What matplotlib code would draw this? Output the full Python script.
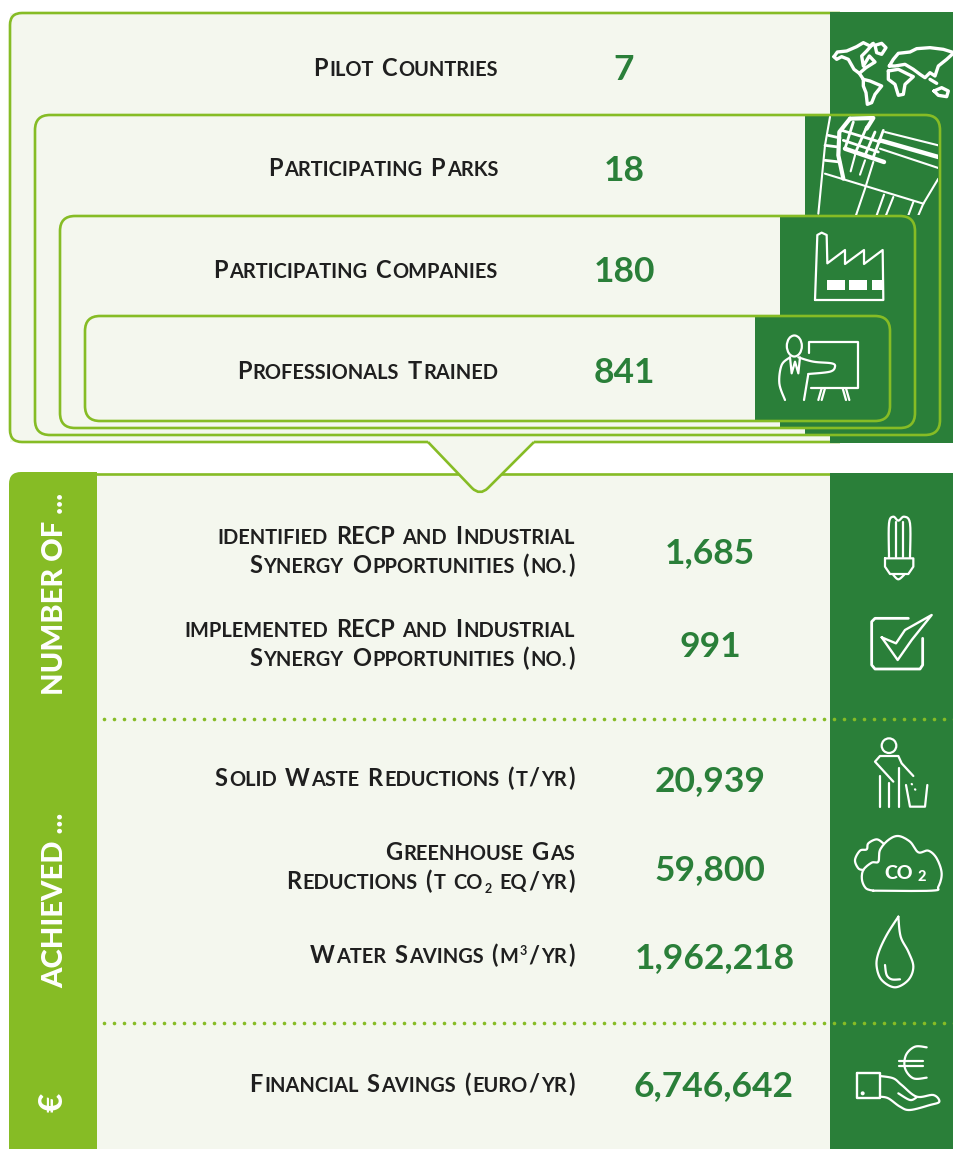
import re
import numpy as np
import matplotlib
matplotlib.use('Agg')
import matplotlib.pyplot as plt
from matplotlib.patches import FancyBboxPatch, Rectangle, PathPatch, Ellipse, Circle
from matplotlib.path import Path

# chart content
top_labels = ['Pilot Countries', 'Participating Parks', 'Participating Companies', 'Professionals Trained']
top_values = ['7', '18', '180', '841']
bottom_labels = [
    ['identified RECP and Industrial', 'Synergy Opportunities (no.)'],
    ['implemented RECP and Industrial', 'Synergy Opportunities (no.)'],
    ['Solid Waste Reductions (t/yr)'],
    ['Greenhouse Gas', 'Reductions (t co₂ eq/yr)'],
    ['Water Savings (m³/yr)'],
    ['Financial Savings (euro/yr)'],
]
bottom_values = ['1,685', '991', '20,939', '59,800', '1,962,218', '6,746,642']
side_labels = ['NUMBER OF ...', 'ACHIEVED ...', '€']

# layout, in pixels of the 954x1149 picture
top_label_y = [76, 176, 278, 379]
top_value_y = [80, 181, 282, 383]
bottom_label_y = [[544, 573], [637, 666], [786], [860, 889], [963], [1092]]
bottom_value_y = [563, 657, 791, 880, 968, 1096]
bottom_value_x = [710, 710, 710, 710, 715, 714]
side_y = [695, 988, 1112]
side_size = [21, 21, 24]

PALE = '#F4F7EE'
LIME = '#86BC25'
DARK = '#2A7F39'
INK = '#1F1F1F'
FONT = 'Lato'

fig = plt.figure(figsize=(9.54, 11.49), dpi=100)
ax = fig.add_axes([0, 0, 1, 1])
ax.set_xlim(0, 954)
ax.set_ylim(1149, 0)
ax.axis('off')
renderer = fig.canvas.get_renderer()


def smallcaps(text, right, base, big=17.0, small=14.4, gap=6.5):
    # draws from the right end, lower case becomes smaller capitals
    x = right
    runs = re.findall(r'[a-z.]+|[₂³]| |[^a-z.₂³ ]+', text)
    for run in reversed(runs):
        if run == ' ':
            x -= gap
            continue
        size, y, s = big, base, run
        if run in '₂³':
            s = {'₂': '2', '³': '3'}[run]
            size, y = 9, base + 4 if run == '₂' else base - 8
        elif run[0].islower() or run[0] == '.':
            s = run.upper()
            size = small
        t = ax.text(x, y, s, ha='right', va='baseline', fontsize=size, color=INK,
                    family=FONT, fontweight='bold', zorder=10)
        x -= t.get_window_extent(renderer).width + 1.5


def line(pts, ox=0, oy=0, lw=1.6, closed=False, clip=None, z=8):
    # icon points are written in 3x crop coordinates
    p = np.array(pts, dtype=float) / 3 + [ox, oy]
    if closed:
        p = np.vstack([p, p[0]])
    l, = ax.plot(p[:, 0], p[:, 1], color='white', lw=lw, solid_joinstyle='round',
                 solid_capstyle='round', zorder=z)
    if clip is not None:
        l.set_clip_path(clip)
    return l


def smooth(pts, n=8):
    # catmull-rom through the icon points
    p = np.array(pts, dtype=float)
    p = np.vstack([p[0], p, p[-1]])
    out = []
    for i in range(1, len(p) - 2):
        for t in np.linspace(0, 1, n, endpoint=False):
            out.append(0.5 * (2 * p[i] + (p[i + 1] - p[i - 1]) * t
                              + (2 * p[i - 1] - 5 * p[i] + 4 * p[i + 1] - p[i + 2]) * t ** 2
                              + (3 * p[i] - p[i - 1] - 3 * p[i + 1] + p[i + 2]) * t ** 3))
    out.append(p[-1])
    return out


# outer box of the top block
ax.add_patch(Rectangle((10, 13), 830, 429, fc=PALE, ec='none', zorder=1))
outer = Path([(840, 13), (22, 13), (10, 13), (10, 25), (10, 430), (10, 442), (22, 442),
              (428, 442), (534, 442), (840, 442)],
             [Path.MOVETO, Path.LINETO, Path.CURVE3, Path.CURVE3, Path.LINETO, Path.CURVE3, Path.CURVE3,
              Path.LINETO, Path.MOVETO, Path.LINETO])
ax.add_patch(PathPatch(outer, fc='none', ec=LIME, lw=1.9, zorder=1.5))
ax.add_patch(Rectangle((0, 0), 10, 12, fc='white', ec='none', zorder=1))
ax.add_patch(Rectangle((830, 12), 124, 431, fc=DARK, ec='none', zorder=2))

# nested boxes, each with its dark end panel
boxes = [(35, 115, 940, 435, 805, 3), (60, 216, 915, 428, 780, 4), (85, 316, 890, 421, 755, 5)]
for x0, y0, x1, y1, panel, z in boxes:
    shape = FancyBboxPatch((x0, y0), x1 - x0, y1 - y0, boxstyle='round,pad=0,rounding_size=15',
                           fc=PALE, ec='none', zorder=z)
    ax.add_patch(shape)
    dark = Rectangle((panel, y0), x1 - panel, y1 - y0, fc=DARK, ec='none', zorder=z + 0.1)
    ax.add_patch(dark)
    dark.set_clip_path(shape)
    ax.add_patch(FancyBboxPatch((x0, y0), x1 - x0, y1 - y0, boxstyle='round,pad=0,rounding_size=15',
                                fc='none', ec=LIME, lw=1.9, zorder=z + 0.5))

# bottom block
ax.add_patch(Rectangle((97, 473), 733, 676, fc=PALE, ec='none', zorder=1))
ax.plot([97, 830], [473.5, 473.5], color=LIME, lw=1.9, zorder=1.2)
ax.add_patch(FancyBboxPatch((9, 472), 88, 700, boxstyle='round,pad=0,rounding_size=12', fc=LIME, ec='none', zorder=2))
ax.add_patch(Rectangle((50, 472), 47, 677, fc=LIME, ec='none', zorder=2))
ax.add_patch(Rectangle((830, 473), 124, 676, fc=DARK, ec='none', zorder=2))

# pointer between both blocks
tri = Path([(428, 442), (472, 488), (480, 496), (488, 488), (534, 442)],
           [Path.MOVETO, Path.LINETO, Path.CURVE3, Path.CURVE3, Path.LINETO])
ax.add_patch(PathPatch(tri, fc=PALE, ec=LIME, lw=1.9, zorder=2.5))

# dotted separators
dot_x = np.arange(104, 960, 10)
for y in [718.5, 1023]:
    ax.plot(dot_x, [y] * len(dot_x), ls='none', marker='o', ms=2.6, color=LIME, mec='none', zorder=3)

# text
for lab, y in zip(top_labels, top_label_y):
    smallcaps(lab, 498, y)
for val, y in zip(top_values, top_value_y):
    ax.text(624, y, val, ha='center', va='baseline', fontsize=25.5, color=DARK, family=FONT, fontweight='bold', zorder=10)
for labs, ys in zip(bottom_labels, bottom_label_y):
    for lab, y in zip(labs, ys):
        smallcaps(lab, 575, y)
for val, x, y in zip(bottom_values, bottom_value_x, bottom_value_y):
    ax.text(x, y, val, ha='center', va='baseline', fontsize=25.5, color=DARK, family=FONT, fontweight='bold', zorder=10)
for lab, y, size in zip(side_labels, side_y, side_size):
    ax.text(63, y, lab, rotation=90, ha='left', va='baseline', rotation_mode='anchor', fontsize=size, color='white',
            family=FONT, fontweight='black', zorder=10)

# world map icon
for part in [
    [(12, 62), (22, 48), (50, 45), (80, 32), (100, 20), (120, 30), (130, 22), (110, 45), (95, 60), (100, 90), (118, 60),
     (135, 78), (108, 95), (88, 112), (72, 100), (55, 70), (35, 62), (20, 70)],
    [(135, 28), (155, 22), (168, 35), (155, 55), (140, 50)],
    [(100, 130), (120, 135), (155, 150), (135, 175), (125, 200), (112, 205), (108, 170), (100, 150)],
    [(178, 90), (190, 70), (205, 52), (240, 48), (260, 38), (300, 35), (340, 40), (372, 50), (350, 70), (325, 90),
     (315, 120), (300, 110), (285, 125), (270, 115), (250, 100), (225, 85), (195, 90)],
    [(175, 105), (205, 100), (235, 115), (250, 122), (225, 145), (220, 175), (205, 178), (195, 145), (175, 130)],
    [(312, 165), (335, 155), (355, 165), (350, 182), (325, 178)],
]:
    line(part, 830, 36, lw=2.4, closed=True)
line([(88, 112), (100, 130)], 830, 36, lw=2.4)
line([(300, 130), (320, 142)], 830, 36, lw=2.4)

# street map icon, cut off by the box around it
street_clip = Rectangle((790, 116), 148, 99, transform=ax.transData)
for pts, w in [
    ([(60, 15), (45, 100), (25, 305)], 1.5),
    ([(45, 185), (340, 275)], 1.5),
    ([(340, 275), (325, 310)], 1.5),
    ([(340, 275), (385, 200)], 1.5),
    ([(225, 60), (385, 100)], 1.5),
    ([(210, 85), (385, 135)], 3.2),
    ([(210, 110), (385, 168)], 1.5),
    ([(105, 110), (222, 150)], 3.2),
    ([(95, 55), (210, 90)], 2),
    ([(100, 85), (205, 120)], 2),
    ([(45, 100), (85, 105)], 2),
    ([(45, 145), (90, 150)], 2),
    ([(55, 70), (90, 78)], 2),
    ([(120, 20), (88, 60), (85, 130), (100, 200)], 3),
    ([(120, 20), (190, 18), (170, 50)], 3),
    ([(130, 30), (105, 110)], 2),
    ([(170, 45), (135, 125)], 2),
    ([(195, 60), (165, 130)], 2),
    ([(220, 55), (190, 135)], 2),
    ([(135, 130), (122, 178)], 1.5),
    ([(165, 145), (150, 188)], 1.5),
    ([(190, 150), (165, 230), (138, 310)], 1.5),
    ([(222, 248), (200, 310)], 1.5),
    ([(250, 255), (228, 310)], 1.5),
    ([(310, 270), (295, 310)], 1.5),
]:
    line(pts, 810, 112, lw=w, clip=street_clip)

# factory icon
line([(225, 600), (232, 405), (245, 398), (260, 405), (262, 490), (315, 450), (315, 492), (372, 450), (372, 492),
      (428, 450), (430, 600)], 740, 100, closed=True)
for rx in [(262, 315), (328, 380), (395, 428)]:
    ax.add_patch(Rectangle((740 + rx[0] / 3, 100 + 540 / 3), (rx[1] - rx[0]) / 3, 10, fc='white', ec='none', zorder=8))

# presenter icon
ax.add_patch(Ellipse((740 + 163 / 3, 100 + 738 / 3), 15, 21, fc='none', ec='white', lw=1.6, zorder=8))
line(smooth([(135, 900), (118, 850), (125, 795), (150, 772)]), 740, 100)
line(smooth([(175, 772), (220, 785), (275, 790), (285, 800), (270, 815), (205, 822)]), 740, 100)
line([(205, 822), (192, 900)], 740, 100)
line([(207, 760), (207, 725), (355, 725), (355, 865), (212, 865)], 740, 100)
line([(150, 772), (155, 820), (165, 785), (175, 820), (180, 772)], 740, 100)
for a, b in [(245, 235), (255, 245), (308, 318), (318, 328)]:
    line([(a, 865), (b, 900)], 740, 100)

# bulb icon
line(smooth([(177, 172), (177, 70), (190, 50), (205, 62), (222, 50), (240, 70), (240, 172)], n=6), 830, 500)
line([(197, 172), (197, 65)], 830, 500)
line([(219, 172), (219, 65)], 830, 500)
line([(165, 175), (250, 175), (250, 200), (235, 222), (180, 222), (165, 200)], 830, 500, closed=True)
line(smooth([(190, 225), (205, 238), (222, 225)]), 830, 500)

# check box icon
line([(235, 355), (135, 355), (125, 365), (125, 495), (135, 507), (270, 507), (278, 495), (278, 415)], 830, 500, lw=2)
line([(155, 412), (203, 480), (245, 420), (305, 345), (225, 390), (198, 430)], 830, 500, closed=True, lw=1.7)

# waste bin icon
ax.add_patch(Circle((830 + 177 / 3, 500 + 737 / 3), 7.3, fc='none', ec='white', lw=1.6, zorder=8))
line([(190, 845), (135, 785), (150, 768), (205, 768), (215, 790), (250, 828)], 830, 500)
for x0, y0 in [(150, 828), (178, 850), (207, 805)]:
    line([(x0, y0), (x0, 920)], 830, 500)
line([(228, 855), (240, 920), (285, 920), (292, 855)], 830, 500)
line([(245, 852), (246, 853)], 830, 500)
line([(255, 868), (256, 869)], 830, 500)

# cloud icon
line(smooth([(130, 212), (108, 205), (96, 180), (100, 150), (125, 128), (145, 125), (150, 90), (175, 60), (205, 48),
             (240, 65), (265, 97), (295, 92), (320, 115), (335, 160), (325, 200), (305, 212), (130, 212)]), 830, 820)
line(smooth([(160, 70), (140, 58), (115, 70), (110, 88), (90, 92), (75, 120), (85, 145), (100, 150)]), 830, 820)
ax.text(830 + 163 / 3, 820 + 178 / 3, 'CO', fontsize=14, fontweight='black', color='white', family=FONT,
        ha='left', va='baseline', zorder=9)
ax.text(830 + 262 / 3, 820 + 184 / 3, '2', fontsize=10.5, fontweight='black', color='white', family=FONT,
        ha='left', va='baseline', zorder=9)

# water drop icon
line(smooth([(205, 290), (170, 345), (145, 400), (140, 440), (155, 480), (195, 502), (235, 480), (250, 440), (235, 395),
             (212, 350), (205, 290)]), 830, 820)
line(smooth([(165, 435), (170, 465), (185, 478), (210, 478)]), 830, 820)

# euro hand icon
line(smooth([(290, 682), (255, 680), (228, 705), (225, 745), (250, 775), (290, 773)]), 830, 820)
line([(207, 722), (280, 722)], 830, 820)
line([(207, 738), (280, 738)], 830, 820)
line([(80, 760), (150, 760), (150, 835), (80, 835)], 830, 820, closed=True, lw=1.7)
ax.add_patch(Circle((830 + 98 / 3, 820 + 820 / 3), 2, fc='white', ec='none', zorder=8))
line(smooth([(150, 768), (190, 775), (215, 795), (260, 830), (310, 825), (328, 845), (300, 855), (240, 870), (210, 860),
             (175, 835), (150, 830)]), 830, 820)
line(smooth([(205, 820), (240, 840), (260, 832)]), 830, 820)

fig.savefig('out.png', dpi=100, facecolor='white')
